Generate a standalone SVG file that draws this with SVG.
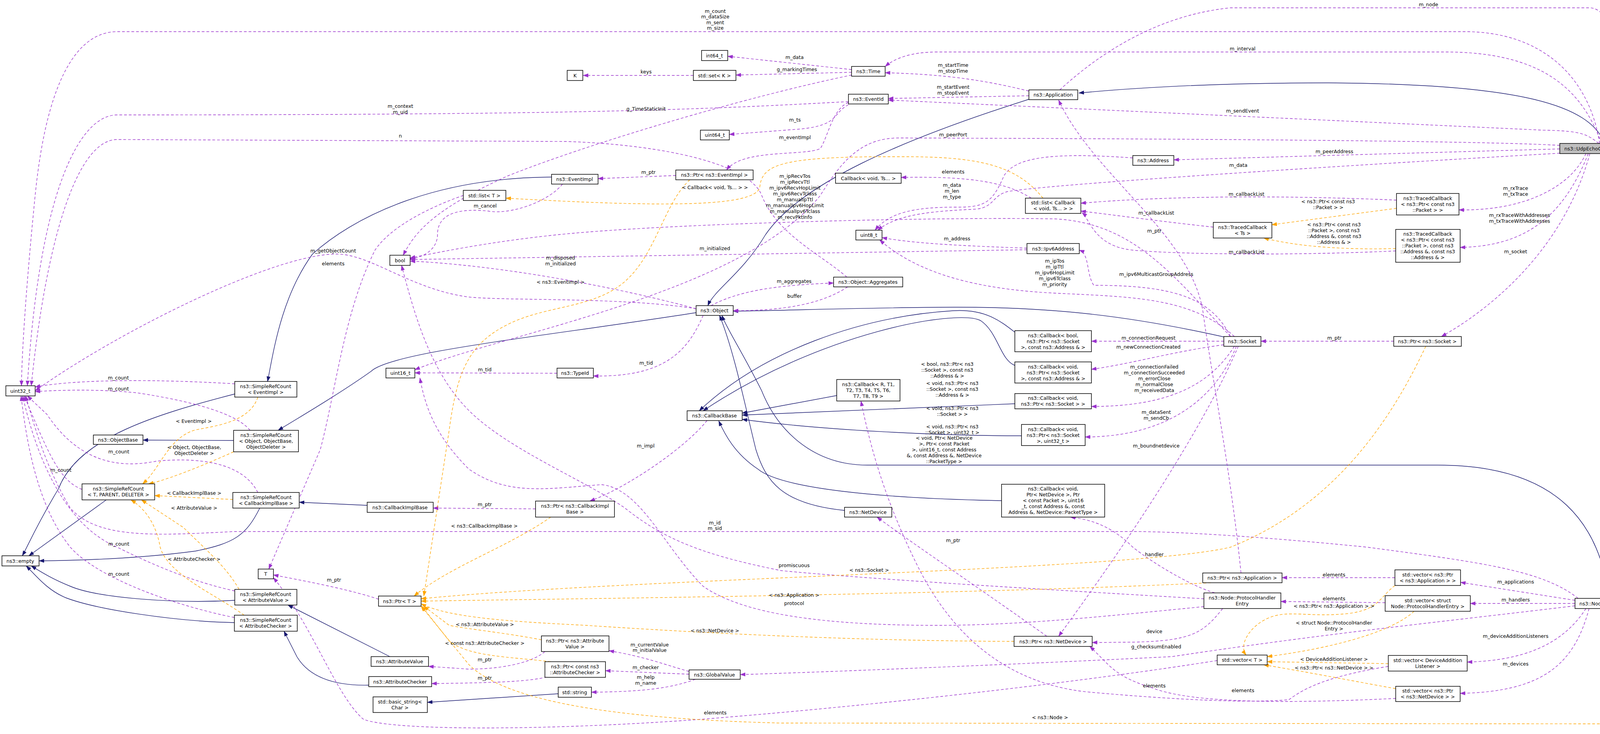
<svg xmlns="http://www.w3.org/2000/svg" width="4412" height="1878" viewBox="0 0 4412 1878">
<style>
.n rect{fill:#fff;stroke:#000;stroke-width:1.5}
text{font-family:"DejaVu Sans","Liberation Sans",Arial,sans-serif;font-size:12.5px;fill:#000}
.n text{text-anchor:middle}
.l{text-anchor:middle}
.p{fill:none;stroke:#9a32cd;stroke-width:1.4;stroke-dasharray:7,5;marker-end:url(#ap)}
.o{fill:none;stroke:#ffa500;stroke-width:1.4;stroke-dasharray:7,5;marker-end:url(#ao)}
.b{fill:none;stroke:#191970;stroke-width:1.4;marker-end:url(#ab)}
</style>
<defs>
<marker id="ap" markerWidth="14" markerHeight="10" refX="13" refY="5" orient="auto" markerUnits="userSpaceOnUse"><path d="M0,0 L14,5 L0,10 z" fill="#9a32cd"/></marker>
<marker id="ao" markerWidth="14" markerHeight="10" refX="13" refY="5" orient="auto" markerUnits="userSpaceOnUse"><path d="M0,0 L14,5 L0,10 z" fill="#ffa500"/></marker>
<marker id="ab" markerWidth="14" markerHeight="10" refX="13" refY="5" orient="auto" markerUnits="userSpaceOnUse"><path d="M0,0 L14,5 L0,10 z" fill="#191970"/></marker>
</defs>
<rect width="4412" height="1878" fill="#fff"/>
<g id="edges">
<path class="b" d="M4108,367 C4070,270 3900,215 3400,212 C3100,212 2900,225 2762,238"/>
<path class="b" d="M2634,254 C2300,360 2050,470 1960,600 C1900,700 1830,740 1812,782"/>
<path class="b" d="M1412,453 C1100,455 900,560 800,650 C720,760 700,900 685,976"/>
<path class="b" d="M601,1008 C400,1060 200,1120 150,1250 C90,1350 70,1400 57,1422"/>
<path class="b" d="M1782,800 C1400,860 1000,900 950,950 C880,1000 780,1060 712,1101"/>
<path class="b" d="M598,1127 L366,1126"/>
<path class="b" d="M272,1279 L74,1422"/>
<path class="b" d="M665,1300 C630,1370 600,1390 500,1410 C350,1430 200,1434 100,1435"/>
<path class="b" d="M940,1293 L766,1285"/>
<path class="b" d="M601,1536 C450,1545 250,1530 180,1500 C130,1480 100,1460 80,1448"/>
<path class="b" d="M600,1593 C450,1590 250,1560 170,1530 C120,1510 90,1470 67,1448"/>
<path class="b" d="M998,1680 L737,1548"/>
<path class="b" d="M944,1753 C850,1755 790,1730 760,1680 L727,1615"/>
<path class="b" d="M1429,1775 L1094,1797"/>
<path class="b" d="M3133,862 C2900,810 2700,785 2440,786 C2200,787 2000,795 1877,796"/>
<path class="b" d="M2598,850 C2560,820 2520,790 2440,795 C2200,810 1950,900 1790,1051"/>
<path class="b" d="M2598,935 C2560,920 2555,850 2510,820 C2450,790 2100,850 1800,1051"/>
<path class="b" d="M2142,1012 L1900,1057"/>
<path class="b" d="M2598,1033 L1900,1062"/>
<path class="b" d="M2615,1115 C2400,1115 2100,1100 1900,1073"/>
<path class="b" d="M2564,1281 C2250,1275 2000,1250 1940,1200 C1880,1160 1855,1110 1840,1077"/>
<path class="b" d="M2162,1306 C2000,1290 1960,1230 1935,1150 C1910,1050 1880,900 1842,807"/>
<path class="b" d="M4120,1531 C4095,1350 4000,1190 3680,1190 L2220,1190 C2080,1190 1990,1100 1950,1000 C1900,900 1860,840 1848,807"/>

<path class="p" d="M4095,367 C4070,200 3950,81 3750,81 L300,81 C200,81 120,200 90,500 C60,800 55,950 55,987"/>
<path class="p" d="M4100,367 C4050,230 3950,133 3700,133 L2400,133 C2330,133 2290,150 2266,170"/>
<path class="p" d="M2713,230 C2800,150 2950,40 3150,20 L4070,20 C4150,20 4220,300 4280,900 L4320,1531"/>
<path class="p" d="M2634,233 C2500,200 2400,190 2266,186"/>
<path class="p" d="M2634,245 L2274,252"/>
<path class="p" d="M4093,367 C4060,340 4040,335 3950,333 L2274,256"/>
<path class="p" d="M3993,372 C3800,360 3000,355 2300,353 C2200,353 2150,420 2100,500 C1900,750 1300,850 1062,946"/>
<path class="p" d="M3993,381 L3005,409"/>
<path class="p" d="M3993,392 C3500,420 2700,470 2580,490 C2540,500 2545,530 2500,535 C2400,540 2300,545 2247,589"/>
<path class="p" d="M4060,393 C4020,480 3900,540 3735,537"/>
<path class="p" d="M4066,393 C4000,560 3900,630 3738,633"/>
<path class="p" d="M4070,393 C4000,650 3800,800 3690,861"/>
<path class="p" d="M3575,512 C3300,500 3000,500 2767,520"/>
<path class="p" d="M3106,581 C3000,570 2850,550 2767,540"/>
<path class="p" d="M3573,642 C3300,655 3000,650 2900,640 C2800,630 2790,560 2770,544"/>
<path class="p" d="M2640,507 C2580,470 2500,450 2307,454"/>
<path class="p" d="M2900,404 C2700,390 2600,400 2570,450 C2540,520 2520,530 2450,530 C2350,530 2280,540 2240,589"/>
<path class="p" d="M2629,635 C2500,630 2350,625 2258,608"/>
<path class="p" d="M3160,861 C3050,760 2900,760 2700,750 C2500,740 2350,700 2252,614"/>
<path class="p" d="M3150,861 C3100,760 3000,730 2800,730 C2780,700 2790,650 2763,640"/>
<path class="p" d="M3150,861 C3000,700 2900,570 2700,560 C2400,555 1800,570 1500,594 C1300,610 1150,640 1050,660"/>
<path class="p" d="M2629,639 L1050,664"/>
<path class="p" d="M1782,790 C1600,740 1300,680 1050,668"/>
<path class="p" d="M1440,471 C1400,520 1300,550 1250,540 C1150,530 1120,560 1120,600 C1120,640 1080,660 1050,662"/>
<path class="p" d="M1730,449 L1531,457"/>
<path class="p" d="M2172,262 C2130,280 2120,350 2100,380 C2060,400 1900,380 1860,435"/>
<path class="p" d="M2172,268 C2130,290 2150,320 2050,330 L1867,344"/>
<path class="p" d="M2172,260 C1800,280 1500,294 300,294 C200,294 100,500 70,987"/>
<path class="p" d="M2180,192 C1900,250 1500,370 1300,450 C1100,540 1060,600 1032,653"/>
<path class="p" d="M2180,178 L1863,144"/>
<path class="p" d="M2180,185 L1884,192"/>
<path class="p" d="M1775,193 L1493,193"/>
<path class="p" d="M2168,709 C2100,650 1990,600 1950,500 C1920,420 1700,370 1450,362 L300,357 C200,357 120,600 80,987"/>
<path class="p" d="M1820,782 C1900,740 2000,730 2134,724"/>
<path class="p" d="M2170,734 C2100,780 2000,795 1877,795"/>
<path class="p" d="M1800,807 C1760,900 1700,965 1519,962"/>
<path class="p" d="M1426,955 L1062,954"/>
<path class="p" d="M1782,790 C1600,760 1300,770 1200,760 C1050,740 950,650 861,650 C700,650 300,850 90,1000"/>
<path class="p" d="M1186,500 C1100,530 1000,580 960,640 C880,800 860,1000 820,1150 L688,1456"/>
<path class="p" d="M969,1533 C900,1510 800,1490 700,1471"/>
<path class="p" d="M1371,1302 L1109,1300"/>
<path class="p" d="M1810,1076 C1750,1150 1600,1250 1510,1282"/>
<path class="p" d="M601,982 C400,970 200,970 90,990"/>
<path class="p" d="M640,1101 C600,1050 450,1020 350,1005 C250,995 150,998 90,1002"/>
<path class="p" d="M660,1260 C620,1180 500,1170 400,1180 C300,1200 200,1180 120,1060 L70,1013"/>
<path class="p" d="M210,1252 C150,1230 120,1150 62,1013"/>
<path class="p" d="M601,1512 C500,1490 400,1450 300,1400 C180,1350 100,1200 58,1013"/>
<path class="p" d="M600,1580 C450,1550 250,1480 180,1400 C100,1300 70,1150 54,1013"/>
<path class="p" d="M4040,1531 C3950,1460 3800,1440 3500,1400 C3200,1370 3000,1360 2900,1360 L600,1360 C400,1370 250,1380 180,1300 C120,1200 90,1100 66,1013"/>
<path class="p" d="M3082,1532 C2700,1510 2200,1480 2000,1460 C1800,1420 1700,1380 1600,1300 C1500,1230 1300,1150 1200,1050 C1100,950 1060,800 1028,679"/>
<path class="p" d="M3082,1552 C2800,1580 2600,1600 2400,1600 C2100,1600 1900,1570 1800,1500 C1700,1400 1640,1250 1540,1240 C1400,1250 1300,1270 1200,1200 C1120,1120 1090,1050 1075,967"/>
<path class="p" d="M3110,1517 C3050,1500 2950,1440 2900,1400 C2850,1350 2800,1330 2740,1323"/>
<path class="p" d="M3130,1557 C3080,1620 3050,1640 2900,1643 L2796,1644"/>
<path class="p" d="M2680,1628 C2500,1500 2350,1400 2245,1323"/>
<path class="p" d="M3170,886 C3100,1050 2950,1300 2710,1628"/>
<path class="p" d="M3133,873 L2794,873"/>
<path class="p" d="M3133,882 C3000,900 2900,930 2794,945"/>
<path class="p" d="M3160,886 C3100,980 3000,1040 2794,1040"/>
<path class="p" d="M3165,886 C3100,1050 2950,1118 2778,1118"/>
<path class="p" d="M3568,873 L3228,873"/>
<path class="p" d="M3177,1466 C3150,1200 3100,950 3080,800 C3050,600 2800,450 2710,256"/>
<path class="p" d="M1764,1718 C1700,1700 1650,1680 1559,1665"/>
<path class="p" d="M1764,1725 L1550,1716"/>
<path class="p" d="M1780,1738 C1720,1760 1650,1770 1514,1771"/>
<path class="p" d="M4032,1550 C3700,1590 3400,1620 3000,1680 C2600,1700 2100,1720 1895,1726"/>
<path class="p" d="M1395,1667 C1370,1690 1300,1712 1200,1712 L1097,1705"/>
<path class="p" d="M1400,1732 C1350,1745 1250,1747 1105,1749"/>
<path class="p" d="M4032,1536 L3739,1490"/>
<path class="p" d="M3571,1478 L3282,1478"/>
<path class="p" d="M4032,1544 L3764,1544"/>
<path class="p" d="M3546,1542 L3279,1539"/>
<path class="p" d="M4060,1557 C4000,1650 3900,1690 3756,1694"/>
<path class="p" d="M4068,1557 C4030,1700 3950,1770 3738,1774"/>
<path class="p" d="M4239,1544 L4118,1544"/>
<path class="p" d="M3554,1705 C3400,1730 3340,1760 3300,1790 C3200,1800 3000,1790 2780,1770 C2600,1750 2450,1650 2350,1450 C2250,1250 2220,1100 2204,1026"/>
<path class="p" d="M3573,1787 C3300,1800 3050,1800 2950,1760 C2850,1730 2840,1700 2790,1654"/>
<path class="p" d="M3116,1690 C2800,1740 2300,1800 1800,1840 C1400,1870 1000,1870 930,1840 C860,1780 800,1600 700,1478"/>

<path class="o" d="M3575,533 L3256,575"/>
<path class="o" d="M3573,636 C3400,640 3300,625 3235,609"/>
<path class="o" d="M2670,507 C2600,420 2500,400 2300,401 C2000,400 1950,420 1945,480 C1930,530 1700,530 1295,507"/>
<path class="o" d="M1766,460 C1700,520 1680,650 1600,720 C1520,790 1400,780 1300,830 C1200,880 1170,950 1150,1100 L1085,1525"/>
<path class="o" d="M1410,1323 C1300,1400 1150,1450 1060,1525"/>
<path class="o" d="M660,1016 C640,1080 550,1090 500,1100 C430,1120 410,1200 365,1238"/>
<path class="o" d="M598,1156 C500,1200 420,1230 380,1238"/>
<path class="o" d="M596,1278 L396,1268"/>
<path class="o" d="M612,1508 C580,1450 520,1400 470,1350 L362,1279"/>
<path class="o" d="M625,1574 C550,1520 430,1470 410,1400 C400,1340 370,1300 335,1279"/>
<path class="o" d="M3650,886 C3550,1100 3400,1300 3150,1400 C2900,1460 1600,1480 1078,1532"/>
<path class="o" d="M3100,1491 C2500,1520 1600,1530 1078,1538"/>
<path class="o" d="M2596,1641 C2200,1640 1800,1620 1500,1600 C1300,1590 1150,1580 1078,1545"/>
<path class="o" d="M1386,1637 C1300,1620 1200,1610 1150,1600 L1085,1551"/>
<path class="o" d="M1410,1693 C1300,1680 1200,1680 1150,1640 L1080,1551"/>
<path class="o" d="M4315,1557 C4260,1700 4180,1850 4100,1852 L2000,1850 C1600,1840 1300,1800 1200,1700 L1078,1551"/>
<path class="o" d="M3571,1498 C3530,1530 3530,1560 3450,1570 C3350,1580 3300,1560 3250,1580 C3200,1600 3170,1650 3190,1676"/>
<path class="o" d="M3620,1564 C3560,1620 3400,1660 3244,1680"/>
<path class="o" d="M3554,1698 L3244,1693"/>
<path class="o" d="M3573,1762 C3450,1740 3350,1720 3235,1701"/>
</g>
<g id="labels">
<text class="l" x="1831" y="33">m_count</text><text class="l" x="1831" y="47">m_dataSize</text><text class="l" x="1831" y="62">m_sent</text><text class="l" x="1831" y="76">m_size</text>
<text class="l" x="3181" y="129">m_interval</text>
<text class="l" x="3657" y="16">m_node</text>
<text class="l" x="2440" y="171">m_startTime</text><text class="l" x="2440" y="186">m_stopTime</text>
<text class="l" x="2440" y="227">m_startEvent</text><text class="l" x="2440" y="242">m_stopEvent</text>
<text class="l" x="3181" y="288">m_sendEvent</text>
<text class="l" x="2440" y="349">m_peerPort</text>
<text class="l" x="3416" y="392">m_peerAddress</text>
<text class="l" x="3170" y="427">m_data</text>
<text class="l" x="3880" y="486">m_rxTrace</text><text class="l" x="3880" y="501">m_txTrace</text>
<text class="l" x="3890" y="555">m_rxTraceWithAddresses</text><text class="l" x="3890" y="570">m_txTraceWithAddresses</text>
<text class="l" x="3880" y="648">m_socket</text>
<text class="l" x="3191" y="501">m_callbackList</text>
<text class="l" x="2960" y="549">m_callbackList</text>
<text class="l" x="3191" y="649">m_callbackList</text>
<text class="l" x="3400" y="520">&lt; ns3::Ptr&lt; const ns3</text><text class="l" x="3400" y="535">::Packet &gt; &gt;</text>
<text class="l" x="3415" y="579">&lt; ns3::Ptr&lt; const ns3</text><text class="l" x="3415" y="594">::Packet &gt;, const ns3</text><text class="l" x="3415" y="609">::Address &amp;, const ns3</text><text class="l" x="3415" y="624">::Address &amp; &gt;</text>
<text class="l" x="2440" y="444">elements</text>
<text class="l" x="1830" y="484">&lt; Callback&lt; void, Ts... &gt; &gt;</text>
<text class="l" x="2437" y="478">m_data</text><text class="l" x="2437" y="493">m_len</text><text class="l" x="2437" y="508">m_type</text>
<text class="l" x="2450" y="615">m_address</text>
<text class="l" x="2700" y="672">m_ipTos</text><text class="l" x="2700" y="687">m_ipTtl</text><text class="l" x="2700" y="702">m_ipv6HopLimit</text><text class="l" x="2700" y="717">m_ipv6Tclass</text><text class="l" x="2700" y="732">m_priority</text>
<text class="l" x="2960" y="706">m_ipv6MulticastGroupAddress</text>
<text class="l" x="2035" y="455">m_ipRecvTos</text><text class="l" x="2035" y="470">m_ipRecvTtl</text><text class="l" x="2035" y="485">m_ipv6RecvHopLimit</text><text class="l" x="2035" y="500">m_ipv6RecvTclass</text><text class="l" x="2035" y="515">m_manualIpTtl</text><text class="l" x="2035" y="530">m_manualIpv6HopLimit</text><text class="l" x="2035" y="545">m_manualIpv6Tclass</text><text class="l" x="2035" y="560">m_recvPktInfo</text>
<text class="l" x="1830" y="640">m_initialized</text>
<text class="l" x="1435" y="664">m_disposed</text><text class="l" x="1435" y="679">m_initialized</text>
<text class="l" x="1242" y="531">m_cancel</text>
<text class="l" x="1660" y="445">m_ptr</text>
<text class="l" x="2035" y="356">m_eventImpl</text>
<text class="l" x="2035" y="311">m_ts</text>
<text class="l" x="1025" y="276">m_context</text><text class="l" x="1025" y="291">m_uid</text>
<text class="l" x="1654" y="283">g_TimeStaticInit</text>
<text class="l" x="2034" y="151">m_data</text>
<text class="l" x="2040" y="182">g_markingTimes</text>
<text class="l" x="1654" y="188">keys</text>
<text class="l" x="1025" y="352">n</text>
<text class="l" x="2033" y="724">m_aggregates</text>
<text class="l" x="2034" y="762">buffer</text>
<text class="l" x="1654" y="933">m_tid</text>
<text class="l" x="1241" y="950">m_tid</text>
<text class="l" x="853" y="646">m_getObjectCount</text>
<text class="l" x="853" y="679">elements</text>
<text class="l" x="1435" y="726">&lt; ns3::EventImpl &gt;</text>
<text class="l" x="855" y="1488">m_ptr</text>
<text class="l" x="1241" y="1295">m_ptr</text>
<text class="l" x="1653" y="1145">m_impl</text>
<text class="l" x="1240" y="1350">&lt; ns3::CallbackImplBase &gt;</text>
<text class="l" x="496" y="1082">&lt; EventImpl &gt;</text>
<text class="l" x="497" y="1149">&lt; Object, ObjectBase,</text><text class="l" x="497" y="1164">ObjectDeleter &gt;</text>
<text class="l" x="497" y="1266">&lt; CallbackImplBase &gt;</text>
<text class="l" x="497" y="1304">&lt; AttributeValue &gt;</text>
<text class="l" x="497" y="1435">&lt; AttributeChecker &gt;</text>
<text class="l" x="303" y="971">m_count</text>
<text class="l" x="303" y="999">m_count</text>
<text class="l" x="304" y="1160">m_count</text>
<text class="l" x="156" y="1207">m_count</text>
<text class="l" x="304" y="1396">m_count</text>
<text class="l" x="304" y="1473">m_count</text>
<text class="l" x="1830" y="1342">m_id</text><text class="l" x="1830" y="1356">m_sid</text>
<text class="l" x="2033" y="1451">promiscuous</text>
<text class="l" x="2033" y="1548">protocol</text>
<text class="l" x="2955" y="1423">handler</text>
<text class="l" x="2955" y="1620">device</text>
<text class="l" x="2440" y="1387">m_ptr</text>
<text class="l" x="2960" y="1145">m_boundnetdevice</text>
<text class="l" x="2940" y="869">m_connectionRequest</text>
<text class="l" x="2940" y="892">m_newConnectionCreated</text>
<text class="l" x="2955" y="943">m_connectionFailed</text><text class="l" x="2955" y="958">m_connectionSucceeded</text><text class="l" x="2955" y="973">m_errorClose</text><text class="l" x="2955" y="988">m_normalClose</text><text class="l" x="2955" y="1003">m_receivedData</text>
<text class="l" x="2960" y="1059">m_dataSent</text><text class="l" x="2960" y="1074">m_sendCb</text>
<text class="l" x="3416" y="869">m_ptr</text>
<text class="l" x="2955" y="595">m_ptr</text>
<text class="l" x="2425" y="936">&lt; bool, ns3::Ptr&lt; ns3</text><text class="l" x="2425" y="951">::Socket &gt;, const ns3</text><text class="l" x="2425" y="966">::Address &amp; &gt;</text>
<text class="l" x="2438" y="985">&lt; void, ns3::Ptr&lt; ns3</text><text class="l" x="2438" y="1000">::Socket &gt;, const ns3</text><text class="l" x="2438" y="1015">::Address &amp; &gt;</text>
<text class="l" x="2438" y="1049">&lt; void, ns3::Ptr&lt; ns3</text><text class="l" x="2438" y="1064">::Socket &gt; &gt;</text>
<text class="l" x="2438" y="1096">&lt; void, ns3::Ptr&lt; ns3</text><text class="l" x="2438" y="1111">::Socket &gt;, uint32_t &gt;</text>
<text class="l" x="2417" y="1125">&lt; void, Ptr&lt; NetDevice</text><text class="l" x="2417" y="1140">&gt;, Ptr&lt; const Packet</text><text class="l" x="2417" y="1155">&gt;, uint16_t, const Address</text><text class="l" x="2417" y="1170">&amp;, const Address &amp;, NetDevice</text><text class="l" x="2417" y="1185">::PacketType &gt;</text>
<text class="l" x="2225" y="1463">&lt; ns3::Socket &gt;</text>
<text class="l" x="2033" y="1527">&lt; ns3::Application &gt;</text>
<text class="l" x="1830" y="1618">&lt; ns3::NetDevice &gt;</text>
<text class="l" x="1241" y="1602">&lt; ns3::AttributeValue &gt;</text>
<text class="l" x="1241" y="1650">&lt; const ns3::AttributeChecker &gt;</text>
<text class="l" x="1241" y="1692">m_ptr</text>
<text class="l" x="1241" y="1739">m_ptr</text>
<text class="l" x="1663" y="1654">m_currentValue</text><text class="l" x="1663" y="1668">m_initialValue</text>
<text class="l" x="1653" y="1712">m_checker</text>
<text class="l" x="1653" y="1737">m_help</text><text class="l" x="1653" y="1752">m_name</text>
<text class="l" x="2960" y="1659">g_checksumEnabled</text>
<text class="l" x="2688" y="1840">&lt; ns3::Node &gt;</text>
<text class="l" x="1831" y="1828">elements</text>
<text class="l" x="3880" y="1493">m_applications</text>
<text class="l" x="3415" y="1475">elements</text>
<text class="l" x="3880" y="1539">m_handlers</text>
<text class="l" x="3415" y="1536">elements</text>
<text class="l" x="3880" y="1632">m_deviceAdditionListeners</text>
<text class="l" x="3880" y="1703">m_devices</text>
<text class="l" x="4196" y="1539">m_ptr</text>
<text class="l" x="2955" y="1759">elements</text>
<text class="l" x="3182" y="1771">elements</text>
<text class="l" x="3415" y="1555">&lt; ns3::Ptr&lt; ns3::Application &gt; &gt;</text>
<text class="l" x="3415" y="1598">&lt; struct Node::ProtocolHandler</text><text class="l" x="3415" y="1613">Entry &gt;</text>
<text class="l" x="3415" y="1691">&lt; DeviceAdditionListener &gt;</text>
<text class="l" x="3415" y="1713">&lt; ns3::Ptr&lt; ns3::NetDevice &gt; &gt;</text>
</g>
<g id="N1" class="n"><rect x="3993" y="367" width="146" height="26" style="fill:#bfbfbf"/><text x="4066" y="385">ns3::UdpEchoClient</text></g>
<g id="N2" class="n"><rect x="2634" y="230" width="125" height="25"/><text x="2696" y="247">ns3::Application</text></g>
<g id="N3" class="n"><rect x="2180" y="170" width="86" height="25"/><text x="2223" y="187">ns3::Time</text></g>
<g id="N4" class="n"><rect x="1796" y="129" width="67" height="26"/><text x="1829" y="147">int64_t</text></g>
<g id="N5" class="n"><rect x="1775" y="180" width="109" height="26"/><text x="1829" y="198">std::set&lt; K &gt;</text></g>
<g id="N6" class="n"><rect x="1452" y="180" width="40" height="26"/><text x="1472" y="198">K</text></g>
<g id="N7" class="n"><rect x="2172" y="241" width="102" height="25"/><text x="2223" y="258">ns3::EventId</text></g>
<g id="N8" class="n"><rect x="1793" y="333" width="74" height="25"/><text x="1830" y="350">uint64_t</text></g>
<g id="N9" class="n"><rect x="1730" y="435" width="198" height="25"/><text x="1829" y="452">ns3::Ptr&lt; ns3::EventImpl &gt;</text></g>
<g id="N10" class="n"><rect x="1412" y="446" width="119" height="25"/><text x="1471" y="463">ns3::EventImpl</text></g>
<g id="N11" class="n"><rect x="1186" y="487" width="109" height="26"/><text x="1240" y="505">std::list&lt; T &gt;</text></g>
<g id="N12" class="n"><rect x="998" y="653" width="52" height="26"/><text x="1024" y="671">bool</text></g>
<g id="N13" class="n"><rect x="2139" y="443" width="168" height="26"/><text x="2223" y="461">Callback&lt; void, Ts... &gt;</text></g>
<g id="N14" class="n"><rect x="2625" y="507" width="142" height="39"/><text x="2696" y="523">std::list&lt; Callback</text><text x="2696" y="538">&lt; void, Ts... &gt; &gt;</text></g>
<g id="N15" class="n"><rect x="2900" y="398" width="105" height="25"/><text x="2952" y="415">ns3::Address</text></g>
<g id="N16" class="n"><rect x="2191" y="589" width="67" height="25"/><text x="2224" y="606">uint8_t</text></g>
<g id="N17" class="n"><rect x="2629" y="623" width="134" height="26"/><text x="2696" y="641">ns3::Ipv6Address</text></g>
<g id="N18" class="n"><rect x="2134" y="709" width="177" height="25"/><text x="2222" y="726">ns3::Object::Aggregates</text></g>
<g id="N19" class="n"><rect x="1782" y="782" width="95" height="25"/><text x="1829" y="799">ns3::Object</text></g>
<g id="N20" class="n"><rect x="2598" y="846" width="196" height="54"/><text x="2696" y="863">ns3::Callback&lt; bool,</text><text x="2696" y="878">ns3::Ptr&lt; ns3::Socket</text><text x="2696" y="893">&gt;, const ns3::Address &amp; &gt;</text></g>
<g id="N21" class="n"><rect x="3575" y="495" width="160" height="55"/><text x="3655" y="512">ns3::TracedCallback</text><text x="3655" y="527">&lt; ns3::Ptr&lt; const ns3</text><text x="3655" y="542">::Packet &gt; &gt;</text></g>
<g id="N22" class="n"><rect x="3106" y="569" width="150" height="40"/><text x="3181" y="586">ns3::TracedCallback</text><text x="3181" y="601">&lt; Ts &gt;</text></g>
<g id="N23" class="n"><rect x="3573" y="587" width="165" height="84"/><text x="3655" y="603">ns3::TracedCallback</text><text x="3655" y="618">&lt; ns3::Ptr&lt; const ns3</text><text x="3655" y="633">::Packet &gt;, const ns3</text><text x="3655" y="648">::Address &amp;, const ns3</text><text x="3655" y="663">::Address &amp; &gt;</text></g>
<g id="N24" class="n"><rect x="3133" y="861" width="95" height="25"/><text x="3180" y="878">ns3::Socket</text></g>
<g id="N25" class="n"><rect x="3568" y="861" width="173" height="25"/><text x="3654" y="878">ns3::Ptr&lt; ns3::Socket &gt;</text></g>
<g id="N26" class="n"><rect x="15" y="987" width="75" height="26"/><text x="52" y="1005">uint32_t</text></g>
<g id="N27" class="n"><rect x="601" y="976" width="159" height="40"/><text x="680" y="993">ns3::SimpleRefCount</text><text x="680" y="1008">&lt; EventImpl &gt;</text></g>
<g id="N28" class="n"><rect x="239" y="1113" width="127" height="24"/><text x="302" y="1130">ns3::ObjectBase</text></g>
<g id="N29" class="n"><rect x="598" y="1101" width="166" height="55"/><text x="681" y="1118">ns3::SimpleRefCount</text><text x="681" y="1133">&lt; Object, ObjectBase,</text><text x="681" y="1148">ObjectDeleter &gt;</text></g>
<g id="N30" class="n"><rect x="210" y="1238" width="186" height="41"/><text x="303" y="1255">ns3::SimpleRefCount</text><text x="303" y="1270">&lt; T, PARENT, DELETER &gt;</text></g>
<g id="N31" class="n"><rect x="596" y="1260" width="170" height="40"/><text x="681" y="1277">ns3::SimpleRefCount</text><text x="681" y="1292">&lt; CallbackImplBase &gt;</text></g>
<g id="N32" class="n"><rect x="940" y="1285" width="169" height="26"/><text x="1024" y="1303">ns3::CallbackImplBase</text></g>
<g id="N33" class="n"><rect x="5" y="1422" width="95" height="26"/><text x="52" y="1440">ns3::empty</text></g>
<g id="N34" class="n"><rect x="661" y="1456" width="39" height="25"/><text x="680" y="1473">T</text></g>
<g id="N35" class="n"><rect x="601" y="1508" width="159" height="40"/><text x="680" y="1525">ns3::SimpleRefCount</text><text x="680" y="1540">&lt; AttributeValue &gt;</text></g>
<g id="N36" class="n"><rect x="600" y="1574" width="161" height="41"/><text x="680" y="1591">ns3::SimpleRefCount</text><text x="680" y="1606">&lt; AttributeChecker &gt;</text></g>
<g id="N37" class="n"><rect x="988" y="942" width="74" height="25"/><text x="1025" y="959">uint16_t</text></g>
<g id="N38" class="n"><rect x="1426" y="942" width="93" height="25"/><text x="1472" y="959">ns3::TypeId</text></g>
<g id="N39" class="n"><rect x="969" y="1525" width="109" height="26"/><text x="1023" y="1543">ns3::Ptr&lt; T &gt;</text></g>
<g id="N40" class="n"><rect x="950" y="1680" width="147" height="25"/><text x="1023" y="1697">ns3::AttributeValue</text></g>
<g id="N41" class="n"><rect x="944" y="1731" width="161" height="26"/><text x="1024" y="1749">ns3::AttributeChecker</text></g>
<g id="N42" class="n"><rect x="955" y="1783" width="139" height="40"/><text x="1024" y="1800">std::basic_string&lt;</text><text x="1024" y="1815">Char &gt;</text></g>
<g id="N43" class="n"><rect x="1371" y="1282" width="202" height="41"/><text x="1472" y="1299">ns3::Ptr&lt; ns3::CallbackImpl</text><text x="1472" y="1314">Base &gt;</text></g>
<g id="N44" class="n"><rect x="1386" y="1627" width="173" height="40"/><text x="1472" y="1644">ns3::Ptr&lt; ns3::Attribute</text><text x="1472" y="1659">Value &gt;</text></g>
<g id="N45" class="n"><rect x="1395" y="1693" width="155" height="40"/><text x="1472" y="1710">ns3::Ptr&lt; const ns3</text><text x="1472" y="1725">::AttributeChecker &gt;</text></g>
<g id="N46" class="n"><rect x="1429" y="1758" width="85" height="26"/><text x="1471" y="1776">std::string</text></g>
<g id="N47" class="n"><rect x="1759" y="1051" width="141" height="25"/><text x="1829" y="1068">ns3::CallbackBase</text></g>
<g id="N48" class="n"><rect x="2142" y="971" width="162" height="55"/><text x="2223" y="988">ns3::Callback&lt; R, T1,</text><text x="2223" y="1003">T2, T3, T4, T5, T6,</text><text x="2223" y="1018">T7, T8, T9 &gt;</text></g>
<g id="N49" class="n"><rect x="2598" y="926" width="196" height="54"/><text x="2696" y="943">ns3::Callback&lt; void,</text><text x="2696" y="958">ns3::Ptr&lt; ns3::Socket</text><text x="2696" y="973">&gt;, const ns3::Address &amp; &gt;</text></g>
<g id="N50" class="n"><rect x="2598" y="1007" width="196" height="39"/><text x="2696" y="1023">ns3::Callback&lt; void,</text><text x="2696" y="1038">ns3::Ptr&lt; ns3::Socket &gt; &gt;</text></g>
<g id="N51" class="n"><rect x="2615" y="1086" width="163" height="54"/><text x="2696" y="1103">ns3::Callback&lt; void,</text><text x="2696" y="1118">ns3::Ptr&lt; ns3::Socket</text><text x="2696" y="1133">&gt;, uint32_t &gt;</text></g>
<g id="N52" class="n"><rect x="2564" y="1239" width="264" height="84"/><text x="2696" y="1255">ns3::Callback&lt; void,</text><text x="2696" y="1270">Ptr&lt; NetDevice &gt;, Ptr</text><text x="2696" y="1285">&lt; const Packet &gt;, uint16</text><text x="2696" y="1300">_t, const Address &amp;, const</text><text x="2696" y="1315">Address &amp;, NetDevice::PacketType &gt;</text></g>
<g id="N53" class="n"><rect x="2162" y="1298" width="121" height="25"/><text x="2222" y="1315">ns3::NetDevice</text></g>
<g id="N54" class="n"><rect x="1764" y="1714" width="131" height="24"/><text x="1829" y="1731">ns3::GlobalValue</text></g>
<g id="N55" class="n"><rect x="2596" y="1628" width="200" height="26"/><text x="2696" y="1646">ns3::Ptr&lt; ns3::NetDevice &gt;</text></g>
<g id="N56" class="n"><rect x="3079" y="1466" width="203" height="25"/><text x="3180" y="1483">ns3::Ptr&lt; ns3::Application &gt;</text></g>
<g id="N57" class="n"><rect x="3082" y="1517" width="197" height="40"/><text x="3180" y="1534">ns3::Node::ProtocolHandler</text><text x="3180" y="1549">Entry</text></g>
<g id="N58" class="n"><rect x="3571" y="1458" width="168" height="40"/><text x="3655" y="1475">std::vector&lt; ns3::Ptr</text><text x="3655" y="1490">&lt; ns3::Application &gt; &gt;</text></g>
<g id="N59" class="n"><rect x="3546" y="1524" width="218" height="40"/><text x="3655" y="1541">std::vector&lt; struct</text><text x="3655" y="1556">Node::ProtocolHandlerEntry &gt;</text></g>
<g id="N60" class="n"><rect x="4032" y="1531" width="86" height="26"/><text x="4075" y="1549">ns3::Node</text></g>
<g id="N61" class="n"><rect x="4239" y="1531" width="167" height="26"/><text x="4322" y="1549">ns3::Ptr&lt; ns3::Node &gt;</text></g>
<g id="N62" class="n"><rect x="3116" y="1676" width="128" height="25"/><text x="3180" y="1693">std::vector&lt; T &gt;</text></g>
<g id="N63" class="n"><rect x="3554" y="1677" width="202" height="40"/><text x="3655" y="1694">std::vector&lt; DeviceAddition</text><text x="3655" y="1709">Listener &gt;</text></g>
<g id="N64" class="n"><rect x="3573" y="1756" width="165" height="39"/><text x="3655" y="1772">std::vector&lt; ns3::Ptr</text><text x="3655" y="1787">&lt; ns3::NetDevice &gt; &gt;</text></g>
</svg>
